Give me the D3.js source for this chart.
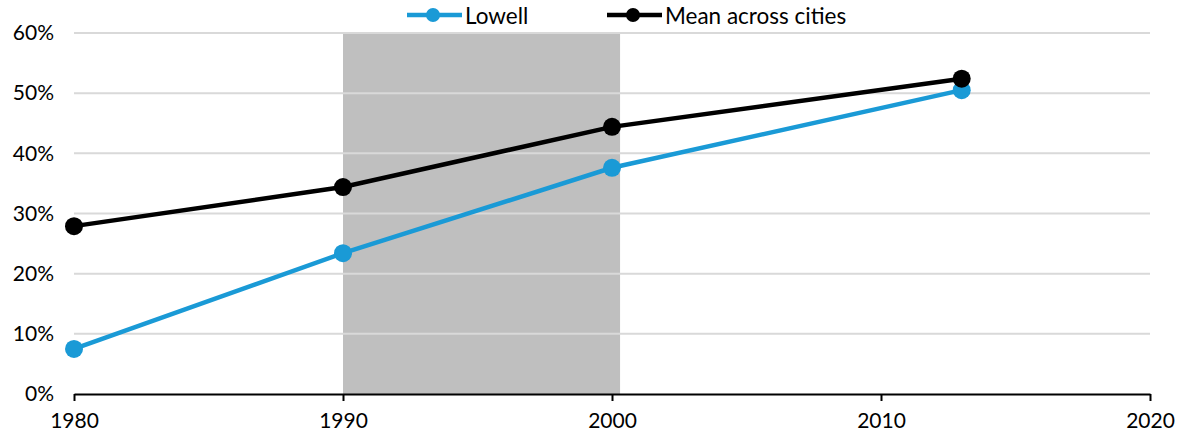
<!DOCTYPE html>
<html>
<head>
<meta charset="utf-8">
<script src="https://cdn.jsdelivr.net/npm/d3@7/dist/d3.min.js"></script>
<style>
  html, body { margin: 0; padding: 0; background: #fff; }
  svg { display: block; font-family: Lato, "Open Sans", sans-serif; }
</style>
</head>
<body>
<svg id="chart" width="1184" height="440"></svg>
<script>
// Share of population over time
const years = [1980, 1990, 2000, 2013];
const lowell = [7.5, 23.4, 37.6, 50.5];
const meanCities = [27.9, 34.4, 44.4, 52.4];
const seriesNames = ["Lowell", "Mean across cities"];
const seriesColors = ["#1a9ad6", "#000000"];
const xTicks = [1980, 1990, 2000, 2010, 2020];
const yTicks = [0, 10, 20, 30, 40, 50, 60];
const band = [1990, 2000.3];

const svg = d3.select("#chart");
const margin = { left: 74, right: 34, top: 33, bottom: 46 };
const W = 1184, H = 440;
const fontSize = 21;

const x = d3.scaleLinear().domain([1980, 2020]).range([margin.left, W - margin.right]);
const y = d3.scaleLinear().domain([0, 60]).range([H - margin.bottom, margin.top]);

// shaded period
svg.append("rect")
  .attr("x", x(band[0])).attr("y", y(60))
  .attr("width", x(band[1]) - x(band[0]))
  .attr("height", y(0) - y(60))
  .attr("fill", "#bfbfbf");

// horizontal gridlines
svg.append("g").selectAll("line")
  .data(yTicks.filter(d => d > 0))
  .join("line")
  .attr("x1", x(1980)).attr("x2", x(2020))
  .attr("y1", d => y(d)).attr("y2", d => y(d))
  .attr("stroke", "#d9d9d9").attr("stroke-width", 2);

// y axis labels
const yAxis = d3.axisLeft(y).tickValues(yTicks).tickFormat(d => d + "%").tickSize(0).tickPadding(20);
svg.append("g").attr("transform", `translate(${margin.left},0)`).call(yAxis)
  .call(g => g.select(".domain").remove())
  .call(g => g.selectAll("text").attr("font-size", fontSize).attr("fill", "#000").attr("font-family", "Lato, sans-serif"));

// x axis
const xAxis = d3.axisBottom(x).tickValues(xTicks).tickFormat(d3.format("d")).tickSize(7).tickSizeOuter(0).tickPadding(12);
svg.append("g").attr("transform", `translate(0,${y(0)})`).call(xAxis)
  .call(g => g.select(".domain").attr("stroke", "#000").attr("stroke-width", 2))
  .call(g => g.selectAll(".tick line").attr("stroke", "#000").attr("stroke-width", 2))
  .call(g => g.selectAll("text").attr("font-size", fontSize).attr("fill", "#000").attr("font-family", "Lato, sans-serif"));

// series
const series = [lowell, meanCities];
const line = d3.line().x((d, i) => x(years[i])).y(d => y(d));
series.forEach((vals, s) => {
  const g = svg.append("g");
  g.append("path").datum(vals)
    .attr("d", line).attr("fill", "none")
    .attr("stroke", seriesColors[s]).attr("stroke-width", 4.5);
  g.selectAll("circle").data(vals).join("circle")
    .attr("cx", (d, i) => x(years[i])).attr("cy", d => y(d))
    .attr("r", 9).attr("fill", seriesColors[s]);
});

// legend
const legendX = [407, 607];
seriesNames.forEach((name, s) => {
  const lg = svg.append("g").attr("transform", `translate(${legendX[s]},15)`);
  lg.append("line").attr("x1", 0).attr("x2", 55).attr("y1", 0).attr("y2", 0)
    .attr("stroke", seriesColors[s]).attr("stroke-width", 4.5);
  lg.append("circle").attr("cx", 26).attr("cy", 0).attr("r", 7).attr("fill", seriesColors[s]);
  lg.append("text").attr("x", 58).attr("y", 9).attr("font-size", 22.5).attr("fill", "#000")
    .text(name);
});
</script>
</body>
</html>
